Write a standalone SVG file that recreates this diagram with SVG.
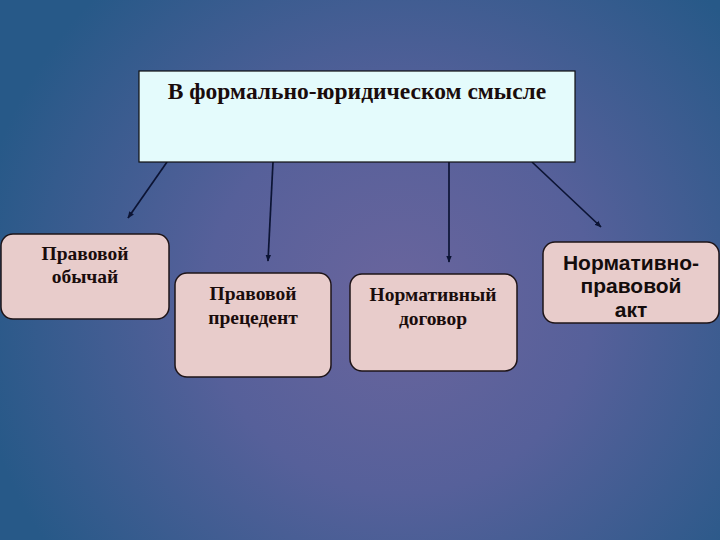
<svg xmlns="http://www.w3.org/2000/svg" width="720" height="540" viewBox="0 0 720 540">
<defs>
<radialGradient id="bg" cx="400" cy="300" r="430" gradientUnits="userSpaceOnUse">
<stop offset="0" stop-color="#6a659d"/>
<stop offset="0.45" stop-color="#56609a"/>
<stop offset="1" stop-color="#275988"/>
</radialGradient>
<marker id="ah" viewBox="0 0 10 10" refX="9" refY="5" markerWidth="7" markerHeight="7" orient="auto" markerUnits="userSpaceOnUse">
<path d="M0,1 L10,5 L0,9 Z" fill="#0c1434"/>
</marker>
</defs>
<style>
.box{fill:#e8cccb;stroke:#1e1418;stroke-width:1.5}
.serif{font-family:"Liberation Serif","Times New Roman",serif;font-weight:bold;font-size:19.5px;fill:#1a0c0c;text-anchor:middle}
.sans{font-family:"Liberation Sans",Arial,sans-serif;font-weight:bold;font-size:21px;fill:#140c0c;text-anchor:middle}
.conn{stroke:#0c1434;stroke-width:1.7;fill:none;marker-end:url(#ah)}
</style>
<rect width="720" height="540" fill="url(#bg)"/>
<g id="connectors">
<line class="conn" x1="167" y1="162" x2="128" y2="218"/>
<line class="conn" x1="273" y1="162" x2="268" y2="261"/>
<line class="conn" x1="449" y1="162" x2="449" y2="262"/>
<line class="conn" x1="532" y1="162" x2="601" y2="227"/>
</g>
<g id="main">
<rect x="139" y="71" width="436" height="91" fill="#e4fbfc" stroke="#101010" stroke-width="1.2"/>
<text class="serif" x="357" y="99" style="font-size:23.5px">В формально-юридическом смысле</text>
</g>
<g id="custom">
<rect class="box" x="1" y="234" width="168" height="85" rx="12"/>
<text class="serif" x="85" y="260">Правовой</text>
<text class="serif" x="85" y="283">обычай</text>
</g>
<g id="precedent">
<rect class="box" x="175" y="273" width="156" height="104" rx="12"/>
<text class="serif" x="253" y="300">Правовой</text>
<text class="serif" x="253" y="324">прецедент</text>
</g>
<g id="contract">
<rect class="box" x="350" y="274" width="167" height="97" rx="12"/>
<text class="serif" x="433" y="301">Нормативный</text>
<text class="serif" x="433" y="325">договор</text>
</g>
<g id="act">
<rect class="box" x="543" y="242" width="176" height="81" rx="12"/>
<text class="sans" x="631" y="270">Нормативно-</text>
<text class="sans" x="631" y="293">правовой</text>
<text class="sans" x="631" y="317">акт</text>
</g>
</svg>
